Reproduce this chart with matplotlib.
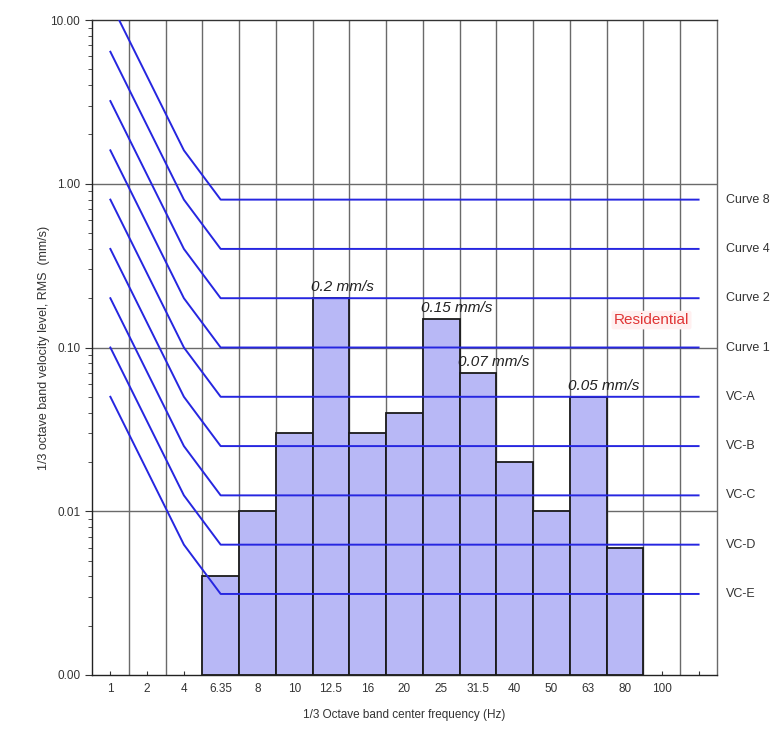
import matplotlib
matplotlib.use('Agg')

import numpy as np
import matplotlib.pyplot as plt
from matplotlib.ticker import FuncFormatter, FixedLocator, LogLocator, NullFormatter

plt.rcParams['font.family'] = ['Liberation Sans', 'DejaVu Sans']

# 1/3 octave band centre frequencies (categorical)
freq_labels = ['1', '2', '4', '6.35', '8', '10', '12.5', '16', '20', '25',
               '31.5', '40', '50', '63', '80', '100']
nslots = 17

# measured band velocity levels (mm/s) from 6.35 Hz to 80 Hz
bar_labels = ['6.35', '8', '10', '12.5', '16', '20', '25', '31.5', '40', '50', '63', '80']
bar_values = [0.004, 0.01, 0.03, 0.2, 0.03, 0.04, 0.15, 0.07, 0.02, 0.01, 0.05, 0.006]

# vibration criterion curves: flat level (mm/s)
curve_names = ['Curve 8', 'Curve 4', 'Curve 2', 'Curve 1', 'VC-A', 'VC-B', 'VC-C', 'VC-D', 'VC-E']
curve_levels = [0.8, 0.4, 0.2, 0.1, 0.05, 0.025, 0.0125, 0.00625, 0.003125]
# curve shape: slot index and multiple of the flat level
curve_x = [0, 2, 3, 16]
curve_mult = [16, 2, 1, 1]

# peak annotations
ann_text = ['0.2 mm/s', '0.15 mm/s', '0.07 mm/s', '0.05 mm/s']
ann_band = ['12.5', '25', '31.5', '63']
ann_value = [0.2, 0.15, 0.07, 0.05]

ymin = 0.001

fig = plt.figure(figsize=(7.73, 7.36), dpi=100)
ax = fig.add_axes([0.119, 0.0829, 0.8085, 0.8899])
ax.set_yscale('log')
ax.set_ylim(ymin, 10)
ax.set_xlim(-0.5, nslots - 0.5)

# grid
for k in range(1, nslots):
    ax.axvline(k - 0.5, color='#6a6a6a', lw=1.0, zorder=1)
for yv in [0.01, 0.1, 1.0]:
    ax.axhline(yv, color='#6a6a6a', lw=1.0, zorder=1)

# bars
bx = [freq_labels.index(b) for b in bar_labels]
ax.bar(bx, np.array(bar_values) - ymin, width=1.0, bottom=ymin, color='#b8b8f6',
       edgecolor='#1a1a1a', linewidth=1.3, zorder=2)

# criterion curves
for name, lev in zip(curve_names, curve_levels):
    yv = [lev * m for m in curve_mult]
    ax.plot(curve_x, yv, color='#2626e0', lw=1.4, zorder=3)
    ax.text(1.015, lev, name, transform=ax.get_yaxis_transform(), fontsize=9,
            va='center', ha='left', color='#333333')

ax.text(14.72, 0.147, 'Residential', fontsize=11, color='#e03535', ha='center', va='center',
        zorder=4, bbox=dict(boxstyle='round,pad=0.15', fc='#fff0f0', ec='none'))

for t, b, v in zip(ann_text, ann_band, ann_value):
    xi = freq_labels.index(b)
    ax.text(xi - 0.55, v * 1.06, t, fontsize=11, style='italic', color='#222222',
            ha='left', va='bottom', zorder=4)

# axes styling
ax.set_xticks(range(nslots))
ax.set_xticklabels(freq_labels + [''])
ax.tick_params(axis='x', direction='in', length=3, labelsize=8.5, colors='#333333', pad=6)
ax.yaxis.set_major_locator(FixedLocator([0.001, 0.01, 0.1, 1, 10]))
ax.yaxis.set_major_formatter(FuncFormatter(lambda v, p: '%.2f' % v))
ax.yaxis.set_minor_locator(LogLocator(base=10, subs=np.arange(2, 10)))
ax.yaxis.set_minor_formatter(NullFormatter())
ax.tick_params(axis='y', which='major', length=5, labelsize=8.5, colors='#333333')
ax.tick_params(axis='y', which='minor', length=3, colors='#333333')
for s in ['left', 'bottom']:
    ax.spines[s].set_color('#222222')
ax.spines['top'].set_color('#333333')
ax.spines['right'].set_color('#6a6a6a')
for s in ax.spines.values():
    s.set_linewidth(1.0)

ax.set_ylabel('1/3 octave band velocity level, RMS  (mm/s)', fontsize=9, color='#333333', labelpad=0)
ax.set_xlabel('1/3 Octave band center frequency (Hz)', fontsize=8.5, color='#333333', labelpad=10)

fig.savefig('out.png', dpi=100)
